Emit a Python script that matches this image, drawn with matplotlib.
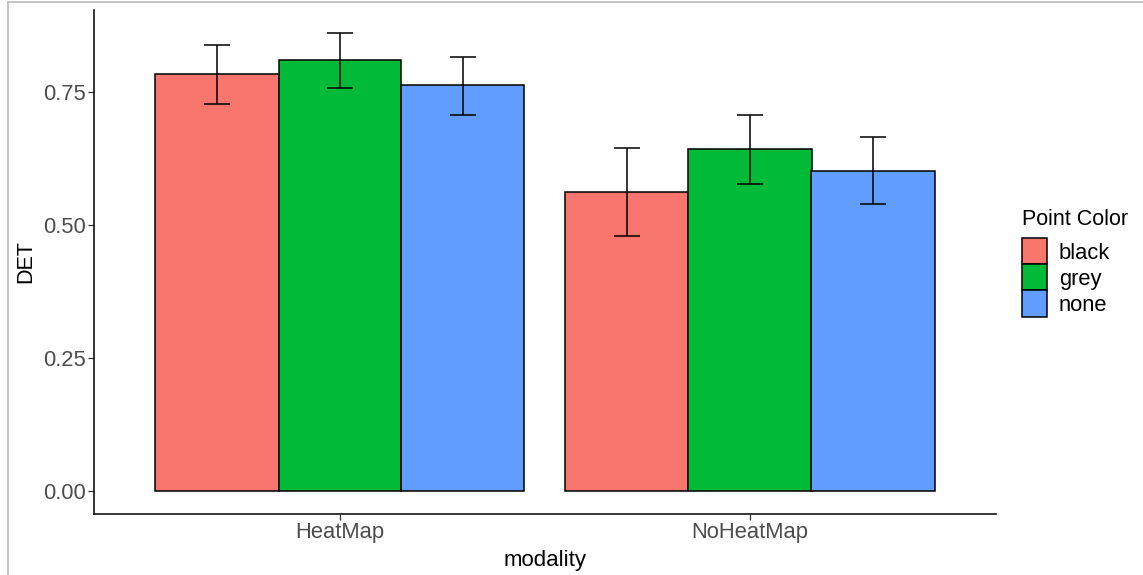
import numpy as np
import matplotlib.pyplot as plt
from matplotlib.lines import Line2D

plt.rcParams['font.family'] = ['Liberation Sans', 'DejaVu Sans']

modality = ['HeatMap', 'NoHeatMap']
point_color = ['black', 'grey', 'none']
det_mean = {'black': [0.784, 0.562], 'grey': [0.810, 0.643], 'none': [0.763, 0.602]}
det_low = {'black': [0.727, 0.479], 'grey': [0.758, 0.577], 'none': [0.707, 0.539]}
det_high = {'black': [0.838, 0.645], 'grey': [0.861, 0.707], 'none': [0.816, 0.665]}

fills = {'black': '#F8766D', 'grey': '#00BA38', 'none': '#619CFF'}

W, H = 1143, 575
fig = plt.figure(figsize=(W / 100, H / 100), dpi=100)
ax = fig.add_axes([94 / W, (H - 514) / H, 902 / W, 504 / H])

x = np.arange(1, len(modality) + 1)
bw = 0.3
for i, pc in enumerate(point_color):
    xs = x + (i - 1) * bw
    m = np.array(det_mean[pc])
    lo = np.array(det_low[pc])
    hi = np.array(det_high[pc])
    ax.bar(xs, m, width=bw, color=fills[pc], edgecolor='black', linewidth=1.1, label=pc, zorder=2)
    ax.errorbar(xs, m, yerr=[m - lo, hi - m], fmt='none', ecolor='black', elinewidth=1.1,
                capsize=13.5 * 0.72, capthick=1.1, zorder=3)

ax.set_xlim(0.4, 2.6)
ax.set_ylim(-0.043, 0.904)
ax.set_xticks(x)
ax.set_xticklabels(modality)
ax.set_yticks([0, 0.25, 0.5, 0.75])
ax.set_yticklabels(['0.00', '0.25', '0.50', '0.75'])
ax.tick_params(colors='#333333', labelcolor='#4D4D4D', labelsize=15.8, length=4, width=0.9, pad=2)

for s in ['top', 'right']:
    ax.spines[s].set_visible(False)
for s in ['left', 'bottom']:
    ax.spines[s].set_linewidth(1.1)
    ax.spines[s].set_color('black')

ax.set_xlabel('modality', fontsize=16, labelpad=5)
ax.set_ylabel('DET', fontsize=15.5, labelpad=5)

leg = ax.legend(title='Point Color', loc='upper left', bbox_to_anchor=(1022 / W, (H - 209) / H),
                bbox_transform=fig.transFigure, frameon=False, fontsize=15.8, title_fontsize=15.5,
                handlelength=1.12, handleheight=1.45, labelspacing=0.0, handletextpad=0.55,
                alignment='left', borderpad=0, borderaxespad=0)
leg._legend_box.sep = 6

# screenshot frame
fig.add_artist(Line2D([7.5 / W, 7.5 / W], [0, 1 - 1.5 / H], color='#BBBBBB', lw=1.2))
fig.add_artist(Line2D([7.5 / W, 1], [1 - 1.5 / H, 1 - 1.5 / H], color='#BBBBBB', lw=1.2))

fig.savefig('out.png', dpi=100)
